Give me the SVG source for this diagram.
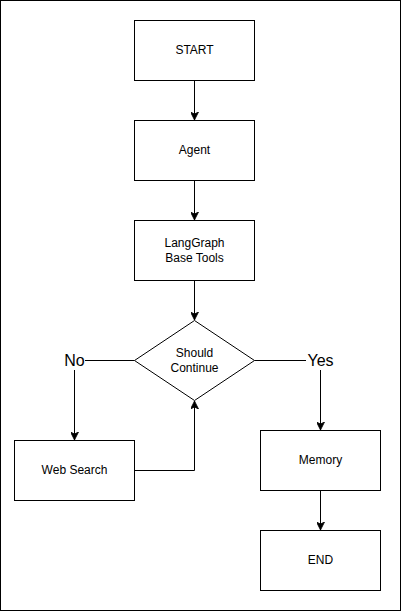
<svg xmlns="http://www.w3.org/2000/svg" width="401" height="611" viewBox="0 0 401 611">
<style>
.box{fill:#fff;stroke:#000;stroke-width:1}
.t{font-family:"Liberation Sans",Arial,sans-serif;font-size:12px;fill:#000;text-anchor:middle;dominant-baseline:central}
.lbl{font-family:"Liberation Sans",Arial,sans-serif;font-size:16px;fill:#000;text-anchor:middle;dominant-baseline:central}
.e{fill:none;stroke:#000;stroke-width:1}
</style>
<defs>
<marker id="arr" viewBox="0 0 10 10" refX="10" refY="5" markerWidth="8" markerHeight="8" markerUnits="userSpaceOnUse" orient="auto">
<path d="M0,0 L10,5 L0,10 L2.5,5 Z" fill="#000" stroke="#000" stroke-width="1"/>
</marker>
</defs>
<rect x="0.5" y="0.5" width="400" height="610" fill="#fff" stroke="#000" stroke-width="1"/>
<g id="connectors">
<path class="e" d="M194.5,80.5 V120" marker-end="url(#arr)"/>
<path class="e" d="M194.5,180.5 V220" marker-end="url(#arr)"/>
<path class="e" d="M194.5,280.5 V320" marker-end="url(#arr)"/>
<path class="e" d="M134.5,360.5 H74.5 V440" marker-end="url(#arr)"/>
<path class="e" d="M254.5,360.5 H320.5 V430" marker-end="url(#arr)"/>
<path class="e" d="M134.5,470.5 H194.5 V401" marker-end="url(#arr)"/>
<path class="e" d="M320.5,490.5 V530" marker-end="url(#arr)"/>
<rect x="64" y="350" width="21" height="20" fill="#fff"/>
<text class="lbl" x="74.5" y="360">No</text>
<rect x="306" y="350" width="29" height="20" fill="#fff"/>
<text class="lbl" x="320.5" y="360">Yes</text>
</g>
<g id="start"><rect class="box" x="134.5" y="20.5" width="120" height="60"/><text class="t" x="194.5" y="49.5">START</text></g>
<g id="agent"><rect class="box" x="134.5" y="120.5" width="120" height="60"/><text class="t" x="194.5" y="149.5">Agent</text></g>
<g id="tools"><rect class="box" x="134.5" y="220.5" width="120" height="60"/><text class="t" x="194.5" y="242.5">LangGraph</text><text class="t" x="194.5" y="257.5">Base Tools</text></g>
<g id="decision"><path class="box" d="M194.5,320.5 L254.5,360.5 L194.5,400.5 L134.5,360.5 Z"/><text class="t" x="194.5" y="352.5">Should</text><text class="t" x="194.5" y="367.5">Continue</text></g>
<g id="websearch"><rect class="box" x="14.5" y="440.5" width="120" height="60"/><text class="t" x="74.5" y="469.5">Web Search</text></g>
<g id="memory"><rect class="box" x="260.5" y="430.5" width="120" height="60"/><text class="t" x="320.5" y="459.5">Memory</text></g>
<g id="end"><rect class="box" x="260.5" y="530.5" width="120" height="60"/><text class="t" x="320.5" y="559.5">END</text></g>
</svg>
